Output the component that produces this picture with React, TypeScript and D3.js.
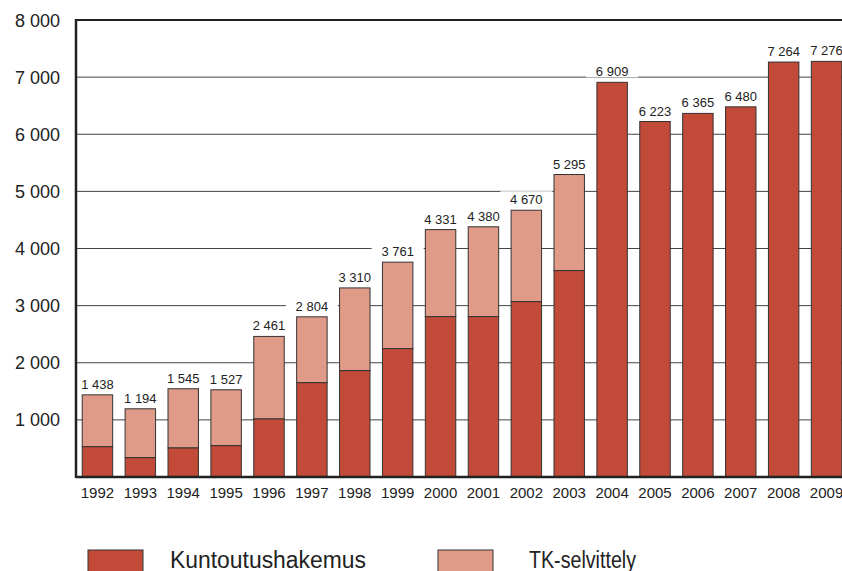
import React from 'react'
import * as d3 from 'd3'

// years and the two stacked series
const years = ['1992', '1993', '1994', '1995', '1996', '1997', '1998', '1999', '2000',
  '2001', '2002', '2003', '2004', '2005', '2006', '2007', '2008', '2009']
const totals = [1438, 1194, 1545, 1527, 2461, 2804, 3310, 3761, 4331,
  4380, 4670, 5295, 6909, 6223, 6365, 6480, 7264, 7276]
const kuntoutus = [530, 338, 508, 548, 1016, 1651, 1862, 2247, 2807,
  2807, 3070, 3613, 6909, 6223, 6365, 6480, 7264, 7276]
const yTicks = [1000, 2000, 3000, 4000, 5000, 6000, 7000, 8000]
const seriesNames = ['Kuntoutushakemus', 'TK-selvittely']

const DARK = '#c24a38'
const LIGHT = '#e09a88'
const FONT = '"Liberation Sans", Arial, sans-serif'

const fmt = (v: number) => d3.format(',')(v).replace(/,/g, ' ')

export default function App() {
  const width = 842
  const height = 571
  const left = 76
  const top = 20
  const bottom = 477

  const x = d3.scaleBand<string>()
    .domain(years)
    .range([left, 848])
    .paddingInner(0.29)
    .paddingOuter(0.145)
  const y = d3.scaleLinear().domain([0, 8000]).range([bottom, top])

  const rows = years.map((yr, i) => ({
    year: yr,
    total: totals[i],
    dark: kuntoutus[i],
    light: totals[i] - kuntoutus[i],
  }))

  // legend placement
  const legendX = [88, 438]
  const legendTextX = [170, 529]
  const legendTextW = [196, 107]

  return (
    <svg width={width} height={height}
      style={{ position: 'absolute', left: 0, top: 0, background: '#fff' }}
      fontFamily={FONT}>
      {/* grid */}
      {yTicks.filter(t => t < 8000).map(t => (
        <line key={t} x1={left} x2={width} y1={y(t)} y2={y(t)} stroke="#444" strokeWidth={1} />
      ))}
      <line x1={left} x2={width} y1={y(8000)} y2={y(8000)} stroke="#222" strokeWidth={2} />

      {/* bars */}
      {rows.map(d => (
        <g key={d.year}>
          {d.light > 0 && (
            <rect x={x(d.year)} width={x.bandwidth()} y={y(d.total)}
              height={y(d.dark) - y(d.total)} fill={LIGHT} stroke="#333" strokeWidth={1} />
          )}
          <rect x={x(d.year)} width={x.bandwidth()} y={y(d.dark)}
            height={y(0) - y(d.dark)} fill={DARK} stroke="#333" strokeWidth={1} />
        </g>
      ))}

      {/* value labels */}
      {rows.map(d => {
        const cx = (x(d.year) as number) + x.bandwidth() / 2
        const s = fmt(d.total)
        const w = s.length * 7.2 + 16
        return (
          <g key={'l' + d.year}>
            <rect x={cx - w / 2} y={y(d.total) - 19} width={w} height={14} fill="#fff" />
            <text x={cx} y={y(d.total) - 6} textAnchor="middle" fontSize={13} fill="#222">{s}</text>
          </g>
        )
      })}

      {/* axes */}
      <line x1={left} x2={width} y1={bottom} y2={bottom} stroke="#222" strokeWidth={2.5} />
      <line x1={left} x2={left} y1={top - 1} y2={bottom + 1} stroke="#222" strokeWidth={2.5} />

      {yTicks.map(t => (
        <text key={'y' + t} x={60} y={y(t) + 6.5} textAnchor="end" fontSize={18} fill="#222">{fmt(t)}</text>
      ))}
      {years.map(yr => (
        <text key={'x' + yr} x={(x(yr) as number) + x.bandwidth() / 2} y={498}
          textAnchor="middle" fontSize={15} fill="#222">{yr}</text>
      ))}

      {/* legend */}
      {seriesNames.map((name, i) => (
        <g key={name}>
          <rect x={legendX[i]} y={550} width={55} height={30}
            fill={i === 0 ? DARK : LIGHT} stroke="#333" strokeWidth={1} />
          <text x={legendTextX[i]} y={568} fontSize={23} fill="#222"
            textLength={legendTextW[i]} lengthAdjust="spacingAndGlyphs">{name}</text>
        </g>
      ))}
    </svg>
  )
}
